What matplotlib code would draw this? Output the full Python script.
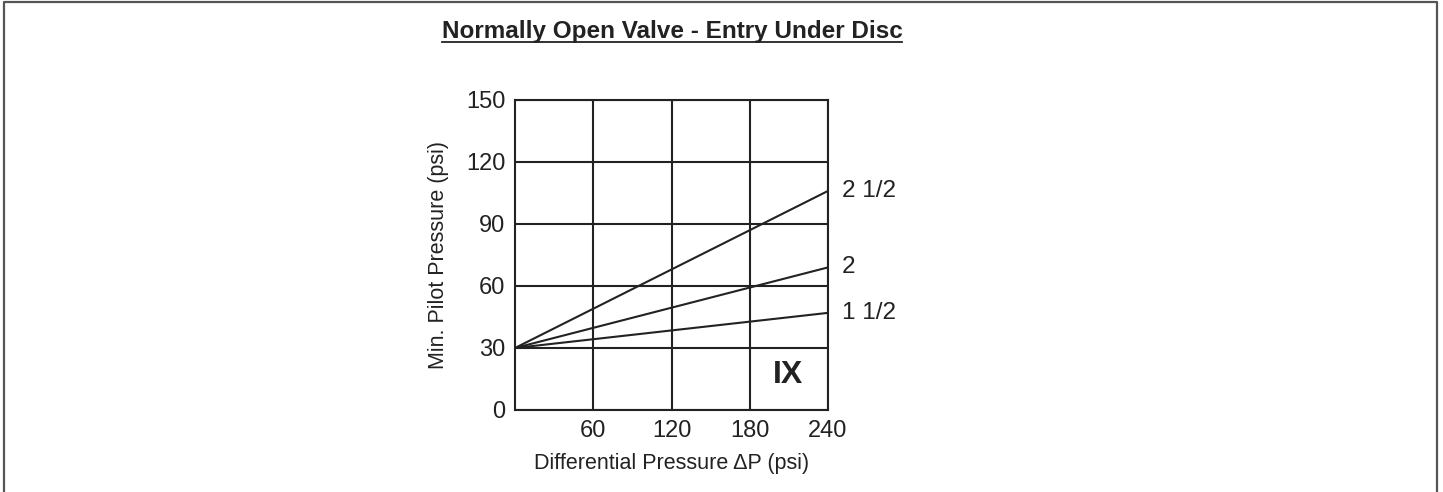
import matplotlib
matplotlib.use('Agg')
import matplotlib.pyplot as plt
from matplotlib.lines import Line2D

plt.rcParams['font.family'] = ['Liberation Sans', 'DejaVu Sans']

# chart data
valve_sizes = ['1 1/2', '2', '2 1/2']
dp_range = [0, 240]
pilot_start = [30, 30, 30]
pilot_end = [47, 69, 106]
x_ticks = [60, 120, 180, 240]
y_ticks = [0, 30, 60, 90, 120, 150]

W, H = 1443, 492
ink = '#222222'

fig = plt.figure(figsize=(W / 100, H / 100), dpi=100)
ax = fig.add_axes([515 / W, 82 / H, 313 / W, 310 / H])

for size, y0, y1 in zip(valve_sizes, pilot_start, pilot_end):
    ax.plot(dp_range, [y0, y1], color=ink, linewidth=1.5, solid_capstyle='butt')
    ax.annotate(size, xy=(dp_range[1], y1), xytext=(10, 0), textcoords='offset points',
                ha='left', va='center', fontsize=17.5, color=ink)

ax.set_xlim(0, 240)
ax.set_ylim(0, 150)
ax.set_xticks(x_ticks)
ax.set_yticks(y_ticks)
ax.grid(True, color=ink, linewidth=1.5)
ax.tick_params(length=0, labelsize=17, colors=ink)
ax.tick_params(axis='x', pad=7)
ax.tick_params(axis='y', pad=7)
for sp in ax.spines.values():
    sp.set_color(ink)
    sp.set_linewidth(1.5)

ax.set_xlabel('Differential Pressure ΔP (psi)', fontsize=15.5, color=ink, labelpad=8)
ax.set_ylabel('Min. Pilot Pressure (psi)', fontsize=15.5, color=ink, labelpad=12)

ax.text(209, 17, 'IX', ha='center', va='center', fontsize=23,
        fontweight='bold', color=ink)

# underlined title
title = fig.text(672 / W, 1 - 38 / H, 'Normally Open Valve - Entry Under Disc',
                 ha='center', va='baseline', fontsize=17.5, fontweight='bold', color=ink)
fig.canvas.draw()
bb = title.get_window_extent().transformed(fig.transFigure.inverted())
fig.add_artist(Line2D([bb.x0, bb.x1], [1 - 42 / H, 1 - 42 / H],
                      transform=fig.transFigure, color=ink, linewidth=1.3))

# outer frame (open at the bottom)
fig.add_artist(Line2D([4 / W, 4 / W, 1437 / W, 1437 / W],
                      [0, 1 - 1.5 / H, 1 - 1.5 / H, 0],
                      transform=fig.transFigure, color='#555555', linewidth=1.6))

fig.savefig('out.png', dpi=100)
